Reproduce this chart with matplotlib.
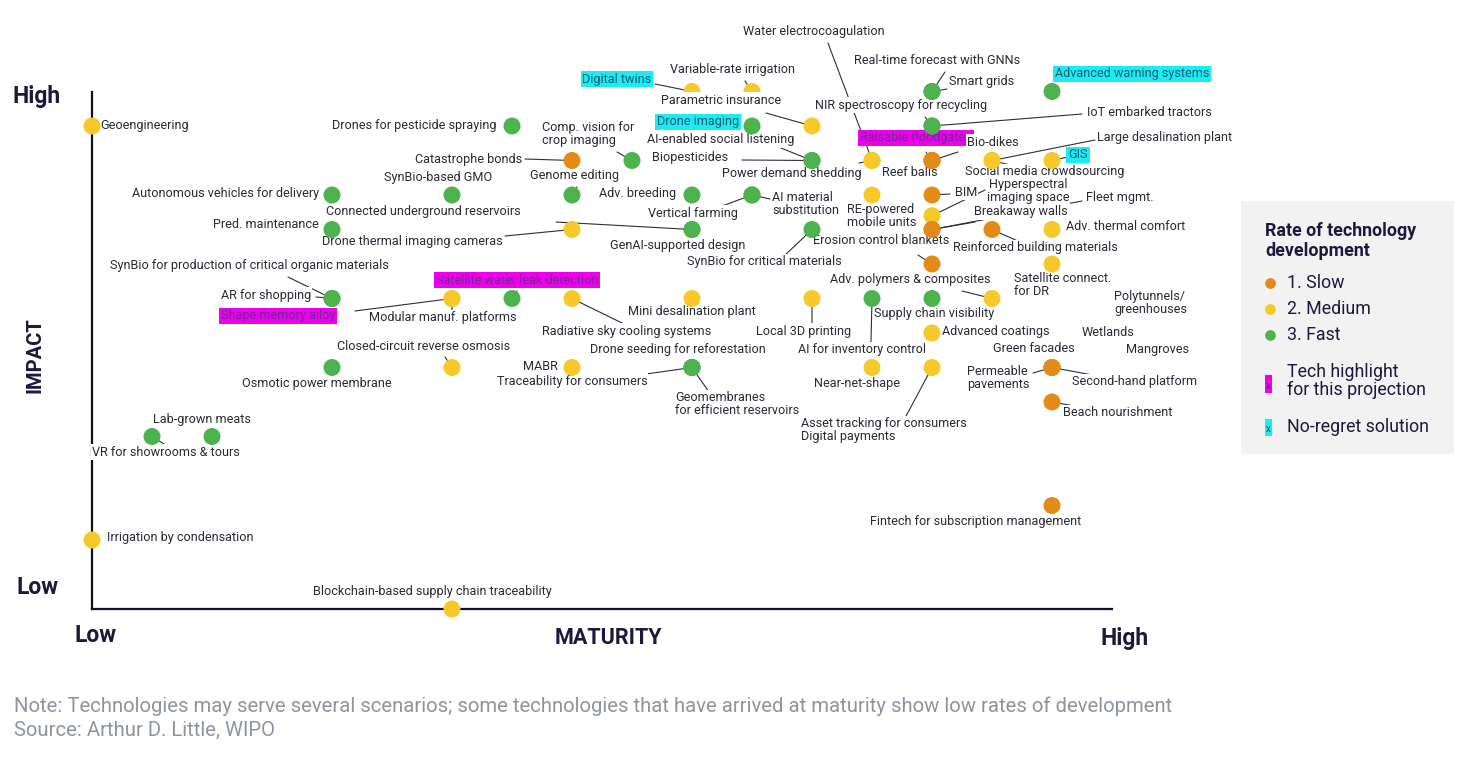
import matplotlib
matplotlib.use('Agg')
import matplotlib.pyplot as plt
from matplotlib.patches import Rectangle

W, H = 1484, 760
plt.rcParams['font.family'] = ['Roboto', 'DejaVu Sans']

# ---- data: maturity (x) / impact (y) on the chart grid, rate 1=slow 2=medium 3=fast
names = [
    'Geoengineering', 'Drones for pesticide spraying', 'Catastrophe bonds',
    'Comp. vision for\ncrop imaging', 'SynBio-based GMO', 'Autonomous vehicles for delivery',
    'Genome editing', 'Adv. breeding', 'AI material\nsubstitution', 'Vertical farming',
    'Connected underground reservoirs', 'Pred. maintenance', 'Drone thermal imaging cameras',
    'GenAI-supported design', 'SynBio for critical materials', 'Erosion control blankets',
    'RE-powered\nmobile units', 'Reef balls', 'Raisable floodgates', 'Bio-dikes',
    'Power demand shedding', 'Biopesticides', 'AI-enabled social listening', 'Drone imaging',
    'Parametric insurance', 'Digital twins', 'Variable-rate irrigation', 'Water electrocoagulation',
    'NIR spectroscopy for recycling', 'Real-time forecast with GNNs', 'Smart grids',
    'Advanced warning systems', 'IoT embarked tractors', 'Large desalination plant', 'GIS',
    'Social media crowdsourcing', 'BIM', 'Hyperspectral\nimaging space', 'Fleet mgmt.',
    'Breakaway walls', 'Reinforced building materials', 'Adv. thermal comfort',
    'Satellite connect.\nfor DR', 'Adv. polymers & composites', 'Supply chain visibility',
    'AI for inventory control', 'Local 3D printing', 'Advanced coatings', 'Near-net-shape',
    'Asset tracking for consumers\nDigital payments', 'Green facades', 'Permeable\npavements',
    'Second-hand platform', 'Beach nourishment', 'Fintech for subscription management',
    'SynBio for production of critical organic materials', 'AR for shopping', 'Shape memory alloy',
    'Modular manuf. platforms', 'Satellite water leak detection', 'Radiative sky cooling systems',
    'Mini desalination plant', 'Closed-circuit reverse osmosis', 'Osmotic power membrane', 'MABR',
    'Traceability for consumers', 'Drone seeding for reforestation',
    'Geomembranes\nfor efficient reservoirs', 'Lab-grown meats', 'VR for showrooms & tours',
    'Irrigation by condensation', 'Blockchain-based supply chain traceability',
]
maturity = [0, 7, 8, 9, 6, 4, 8, 10, 11, 11, 10, 4, 8, 10, 12, 14, 13, 14, 14, 14,
            13, 12, 12, 11, 12, 10, 11, 13, 14, 14, 14, 16, 14, 15, 16, 15, 14, 14, 14,
            14, 15, 16, 16, 15, 14, 13, 12, 14, 13, 14, 16, 16, 16, 16, 16,
            4, 4, 6, 6, 7, 8, 10, 6, 4, 8, 10, 10, 10, 2, 1, 0, 6]
impact = [14, 14, 13, 13, 12, 12, 12, 12, 12, 12, 11, 11, 11, 11, 11, 10, 12, 13, 13, 13,
          13, 13, 13, 14, 14, 15, 15, 13, 14, 15, 15, 15, 14, 13, 13, 13, 12, 11.4, 11,
          11, 11, 11, 10, 9, 9, 9, 9, 8, 7, 7, 7, 7, 7, 6, 3,
          9, 9, 9, 9, 9, 9, 9, 7, 7, 7, 7, 7, 7, 5, 5, 2, 0]
rate = [2, 3, 1, 3, 3, 3, 3, 3, 3, 3, 3, 3, 2, 3, 3, 1, 2, 1, 1, 1,
        2, 3, 3, 3, 2, 2, 2, 2, 3, 3, 3, 3, 3, 2, 2, 2, 1, 2, 1,
        1, 1, 2, 2, 2, 3, 3, 2, 2, 2, 2, 1, 1, 1, 1, 1,
        3, 3, 2, 2, 3, 2, 2, 2, 3, 2, 3, 3, 3, 3, 3, 2, 2]
tech_highlight = ['Raisable floodgates', 'Satellite water leak detection', 'Shape memory alloy']
no_regret = ['Digital twins', 'Drone imaging', 'Advanced warning systems', 'GIS']
loose_labels = ['Polytunnels/\ngreenhouses', 'Wetlands', 'Mangroves']
rate_labels = ['1. Slow', '2. Medium', '3. Fast']

rate_colors = {1: '#E38B17', 2: '#F6C82A', 3: '#4DB34F'}
navy = '#1B1A3D'
txt = '#2A2A36'

# ---- label layout in image pixels: (x, y, ha, leader start)
LAYOUT = {
    'Geoengineering': (100, 125, 'left', None),
    'Drones for pesticide spraying': (497, 125, 'right', None),
    'Catastrophe bonds': (522, 159, 'right', (525, 159)),
    'Comp. vision for\ncrop imaging': (542, 134, 'left', (617, 152)),
    'SynBio-based GMO': (438, 177, 'center', None),
    'Autonomous vehicles for delivery': (319, 194, 'right', None),
    'Genome editing': (574, 176, 'center', (577, 187)),
    'Adv. breeding': (676, 193, 'right', None),
    'AI material\nsubstitution': (772, 204, 'left', (770, 199)),
    'Vertical farming': (693, 213, 'center', (722, 206)),
    'Connected underground reservoirs': (326, 212, 'left', (556, 222)),
    'Pred. maintenance': (319, 225, 'right', None),
    'Drone thermal imaging cameras': (322, 242, 'left', (505, 236)),
    'GenAI-supported design': (678, 245, 'center', None),
    'SynBio for critical materials': (764, 262, 'center', (783, 257)),
    'Erosion control blankets': (881, 241, 'center', (918, 255)),
    'RE-powered\nmobile units': (847, 216, 'left', None),
    'Reef balls': (910, 173, 'center', None),
    'Raisable floodgates': (860, 138, 'left', (926, 152)),
    'Bio-dikes': (967, 142, 'left', (958, 152)),
    'Power demand shedding': (792, 173, 'center', (859, 163)),
    'Biopesticides': (652, 158, 'left', (742, 160)),
    'AI-enabled social listening': (721, 140, 'center', (776, 146)),
    'Drone imaging': (698, 122, 'center', None),
    'Parametric insurance': (721, 100, 'center', (766, 113)),
    'Digital twins': (617, 79, 'center', (655, 84)),
    'Variable-rate irrigation': (732, 69, 'center', (745, 81)),
    'Water electrocoagulation': (814, 31, 'center', (828, 43)),
    'NIR spectroscopy for recycling': (901, 105, 'center', (925, 117)),
    'Real-time forecast with GNNs': (937, 60, 'center', (945, 72)),
    'Smart grids': (949, 81, 'left', (947, 89)),
    'Advanced warning systems': (1132, 74, 'center', None),
    'IoT embarked tractors': (1087, 112, 'left', (1082, 114)),
    'Large desalination plant': (1097, 137, 'left', (1095, 140)),
    'GIS': (1078, 155, 'center', (1068, 157)),
    'Social media crowdsourcing': (1045, 172, 'center', (1018, 167)),
    'BIM': (955, 192, 'left', (950, 194)),
    'Hyperspectral\nimaging space': (1028, 191, 'center', (985, 190)),
    'Fleet mgmt.': (1086, 198, 'left', (1082, 201)),
    'Breakaway walls': (974, 212, 'left', (975, 222)),
    'Reinforced building materials': (1035, 248, 'center', (1020, 242)),
    'Adv. thermal comfort': (1066, 227, 'left', None),
    'Satellite connect.\nfor DR': (1014, 285, 'left', None),
    'Adv. polymers & composites': (910, 279, 'center', (962, 291)),
    'Supply chain visibility': (934, 314, 'center', None),
    'AI for inventory control': (862, 350, 'center', (871, 342)),
    'Local 3D printing': (804, 331, 'center', (812, 323)),
    'Advanced coatings': (942, 332, 'left', None),
    'Near-net-shape': (857, 383, 'center', None),
    'Asset tracking for consumers\nDigital payments': (801, 430, 'left', (905, 418)),
    'Green facades': (1034, 348, 'center', None),
    'Permeable\npavements': (967, 378, 'left', (1033, 373)),
    'Second-hand platform': (1072, 382, 'left', (1098, 376)),
    'Beach nourishment': (1063, 413, 'left', (1080, 407)),
    'Fintech for subscription management': (976, 522, 'center', None),
    'SynBio for production of critical organic materials': (249, 265, 'center', (288, 277)),
    'AR for shopping': (311, 295, 'right', (316, 297)),
    'Shape memory alloy': (278, 316, 'center', (355, 311)),
    'Modular manuf. platforms': (443, 318, 'center', (452, 311)),
    'Satellite water leak detection': (517, 280, 'center', (517, 291)),
    'Radiative sky cooling systems': (627, 331, 'center', (624, 324)),
    'Mini desalination plant': (692, 312, 'center', None),
    'Closed-circuit reverse osmosis': (424, 347, 'center', (445, 357)),
    'Osmotic power membrane': (317, 383, 'center', None),
    'MABR': (558, 367, 'right', None),
    'Traceability for consumers': (572, 381, 'center', (639, 375)),
    'Drone seeding for reforestation': (678, 350, 'center', None),
    'Geomembranes\nfor efficient reservoirs': (675, 404, 'left', (709, 392)),
    'Lab-grown meats': (202, 419, 'center', None),
    'VR for showrooms & tours': (166, 452, 'center', (164, 444)),
    'Irrigation by condensation': (107, 537, 'left', None),
    'Blockchain-based supply chain traceability': (432, 592, 'center', None),
    'Polytunnels/\ngreenhouses': (1114, 303, 'left', None),
    'Wetlands': (1082, 332, 'left', None),
    'Mangroves': (1126, 350, 'left', None),
}
# labels that sit on top of their dots in the original
ON_TOP = ['Parametric insurance']

FS = 9.1


def fp(x, y):
    # image pixel (top-left origin) -> figure pixel
    return (x, H - y)


fig = plt.figure(figsize=(W / 100, H / 100), dpi=100)
ax = fig.add_axes([92 / W, 151 / H, 1020 / W, 517.5 / H])
ax.set_xlim(0, 17)
ax.set_ylim(0, 15)
ax.set_xticks([])
ax.set_yticks([])
for s in ['top', 'right']:
    ax.spines[s].set_visible(False)
for s in ['left', 'bottom']:
    ax.spines[s].set_color('#0E0E2E')
    ax.spines[s].set_linewidth(1.6)

ax.scatter(maturity, impact, s=150, c=[rate_colors[r] for r in rate],
           linewidths=0, zorder=5, clip_on=False)


def put_label(name, target=None):
    lx, ly, ha, lead = LAYOUT[name]
    if lead is not None and target is not None:
        ax.annotate('', xy=target, xycoords='data', xytext=fp(*lead),
                    textcoords='figure pixels', annotation_clip=False, zorder=2,
                    arrowprops=dict(arrowstyle='-', color='#2E2E3A', lw=0.8,
                                    shrinkA=0, shrinkB=0))
    color, box = txt, dict(boxstyle='square,pad=0.08', fc='white', ec='none')
    if name in tech_highlight:
        color, box = '#6E2C8C', dict(boxstyle='square,pad=0.15', fc='#EE00EE', ec='none')
    elif name in no_regret:
        color, box = '#1C5A6E', dict(boxstyle='square,pad=0.15', fc='#19ECF4', ec='none')
    ax.annotate(name, xy=fp(lx, ly), xycoords='figure pixels', ha=ha, va='center',
                fontsize=FS, color=color, bbox=box, linespacing=1.0,
                annotation_clip=False, zorder=6 if name in ON_TOP else 4)


for i, n in enumerate(names):
    put_label(n, (maturity[i], impact[i]))
for n in loose_labels:
    put_label(n)

# axis titles
kw = dict(ha='center', va='center', color=navy, weight='bold')
fig.text(37 / W, 1 - 97 / H, 'High', fontsize=16.5, **kw)
fig.text(37 / W, 1 - 588 / H, 'Low', fontsize=16.5, **kw)
fig.text(95 / W, 1 - 636 / H, 'Low', fontsize=16.5, **kw)
fig.text(1125 / W, 1 - 638 / H, 'High', fontsize=16.5, **kw)
fig.text(608 / W, 1 - 638 / H, 'MATURITY', fontsize=15.5, **kw)
fig.text(35 / W, 1 - 355 / H, 'IMPACT', fontsize=14.5, rotation=90, **kw)

# notes
fig.text(14 / W, 1 - 706 / H, 'Note: Technologies may serve several scenarios; some technologies '
         'that have arrived at maturity show low rates of development',
         fontsize=14.6, color='#8E93A3', va='center')
fig.text(14 / W, 1 - 730 / H, 'Source: Arthur D. Little, WIPO',
         fontsize=14.6, color='#8E93A3', va='center')

# legend panel (local pixel coords)
lg = fig.add_axes([1241 / W, (H - 454) / H, 213 / W, 253 / H])
lg.set_xlim(0, 213)
lg.set_ylim(253, 0)
lg.set_facecolor('#F2F2F2')
lg.set_xticks([])
lg.set_yticks([])
for s in lg.spines.values():
    s.set_visible(False)
lg.text(24, 40, 'Rate of technology\ndevelopment', fontsize=12.8, weight='bold',
        color=navy, va='center', linespacing=1.15)
for k, lab in enumerate(rate_labels):
    y = 82 + 26 * k
    lg.scatter([29], [y], s=60, color=rate_colors[k + 1], linewidths=0)
    lg.text(46, y, lab, fontsize=12.8, color=navy, va='center')
lg.add_patch(Rectangle((24, 174), 7, 18, color='#EE00EE', lw=0))
lg.text(27.5, 185, 'x', fontsize=7, color='#4A2A6A', ha='center', va='center')
lg.text(46, 180, 'Tech highlight\nfor this projection', fontsize=12.8, color=navy,
        va='center', linespacing=1.0)
lg.add_patch(Rectangle((24, 218), 7, 17, color='#19ECF4', lw=0))
lg.text(27.5, 228, 'x', fontsize=7, color='#1C4A5E', ha='center', va='center')
lg.text(46, 226, 'No-regret solution', fontsize=12.8, color=navy, va='center')

fig.savefig('out.png', dpi=100, facecolor='white')
